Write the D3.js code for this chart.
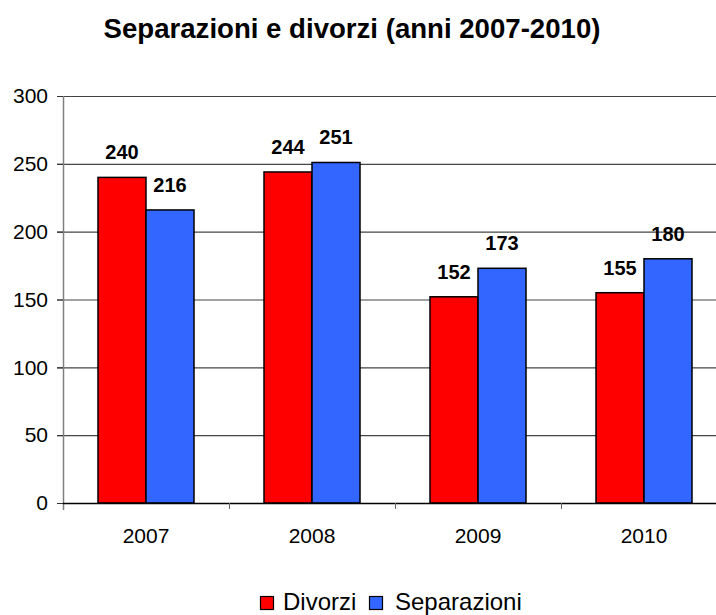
<!DOCTYPE html>
<html><head><meta charset="utf-8">
<script src="https://cdn.jsdelivr.net/npm/d3@7"></script>
<style>body{margin:0;background:#fff}svg{display:block;font-family:"Liberation Sans",Arial,sans-serif}</style>
</head><body><svg id="c" width="716" height="615"></svg>
<script>
const years = ["2007","2008","2009","2010"];
const series = ["Divorzi","Separazioni"];
const divorzi = [240,244,152,155];
const separazioni = [216,251,173,180];
const yTicks = [0,50,100,150,200,250,300];
const colors = ["#FF0000","#3366FF"];

const svg = d3.select("#c");
const mLeft = 63, mBottom = 503, mTop = 96, step = 166;
const x = d3.scaleBand().domain(years).range([mLeft, mLeft + step*years.length]);
const xs = d3.scaleBand().domain(series).range([35, 131]);
const y = d3.scaleLinear().domain([0,300]).range([mBottom, mTop]);

svg.append("text").attr("x",352).attr("y",38).attr("text-anchor","middle")
  .attr("font-size",27.6).attr("font-weight","bold").text("Separazioni e divorzi (anni 2007-2010)");

// gridlines
svg.append("g").selectAll("line").data(yTicks.filter(d=>d>0)).join("line")
  .attr("x1",57).attr("x2",716).attr("y1",d=>y(d)+0.5).attr("y2",d=>y(d)+0.5)
  .attr("stroke","#444").attr("stroke-width",1.2);

// y axis
const ya = svg.append("g").attr("transform",`translate(${mLeft},0)`)
  .call(d3.axisLeft(y).tickValues(yTicks).tickSize(6).tickPadding(9));
ya.select(".domain").attr("stroke","#808080").attr("stroke-width",1.5).attr("d",`M0.5,${mTop}V${mBottom+7}`);
ya.selectAll(".tick line").attr("stroke","#333");
ya.selectAll("text").attr("font-size",21).attr("fill","#000").attr("font-family","Liberation Sans, Arial, sans-serif");

const data = years.map((yr,i)=>({yr, vals:[divorzi[i], separazioni[i]]}));
const g = svg.append("g").selectAll("g").data(data).join("g")
  .attr("transform",d=>`translate(${x(d.yr)},0)`);
g.selectAll("rect").data(d=>d.vals.map((v,j)=>({s:series[j],v,j}))).join("rect")
  .attr("x",d=>xs(d.s)).attr("width",xs.bandwidth()).attr("y",d=>y(d.v)).attr("height",d=>mBottom-y(d.v))
  .attr("fill",d=>colors[d.j]).attr("stroke","#000").attr("stroke-width",1.5);
g.selectAll("text").data(d=>d.vals.map((v,j)=>({s:series[j],v,j}))).join("text")
  .attr("x",d=>xs(d.s)+xs.bandwidth()/2).attr("y",d=>y(d.v)-18)
  .attr("text-anchor","middle").attr("font-size",20).attr("font-weight","bold").text(d=>d.v);

// x axis
svg.append("line").attr("x1",mLeft).attr("x2",716).attr("y1",mBottom+0.5).attr("y2",mBottom+0.5)
  .attr("stroke","#000").attr("stroke-width",1.5);
svg.append("g").selectAll("line").data(years.slice(1)).join("line")
  .attr("x1",d=>x(d)+0.5).attr("x2",d=>x(d)+0.5).attr("y1",mBottom).attr("y2",mBottom+6)
  .attr("stroke","#666").attr("stroke-width",1);
svg.append("g").selectAll("text").data(years).join("text")
  .attr("x",d=>x(d)+x.bandwidth()/2).attr("y",543).attr("text-anchor","middle")
  .attr("font-size",21).text(d=>d);

// legend
const leg = [{s:series[0],x:260,tx:283},{s:series[1],x:369,tx:395}];
const lg = svg.append("g").selectAll("g").data(leg).join("g");
lg.append("rect").attr("x",d=>d.x+0.5).attr("y",596.5).attr("width",13).attr("height",13)
  .attr("fill",(d,i)=>colors[i]).attr("stroke","#000").attr("stroke-width",1.2);
lg.append("text").attr("x",d=>d.tx).attr("y",610).attr("font-size",24).text(d=>d.s);
</script></body></html>
